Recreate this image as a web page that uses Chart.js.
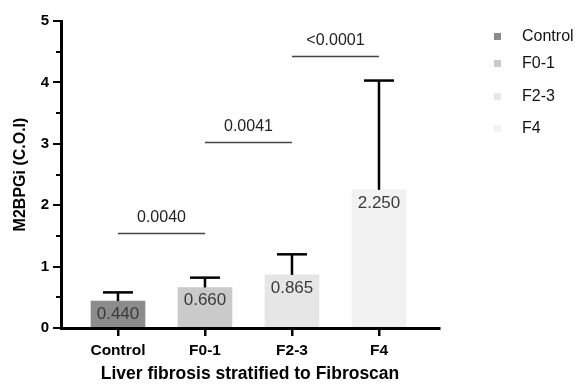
<!DOCTYPE html>
<html><head><meta charset="utf-8">
<script src="https://cdn.jsdelivr.net/npm/chart.js@4/dist/chart.umd.min.js"></script>
<style>
html,body{margin:0;padding:0;background:#fff;}
#wrap{position:relative;width:578px;height:385px;overflow:hidden;}
canvas{display:block;}
.lg-item{position:absolute;left:494px;height:20px;display:flex;align-items:center;font:16px 'Liberation Sans',Arial,sans-serif;color:#111;white-space:nowrap;}
.lg-sq{width:7px;height:7px;margin-right:21px;}
</style></head><body>
<div id="wrap"><canvas id="c" width="578" height="385"></canvas><div id="legend"></div></div>
<script>
const categories = ['Control', 'F0-1', 'F2-3', 'F4'];
const medians = [0.440, 0.660, 0.865, 2.250];
const upperErrors = [0.58, 0.82, 1.20, 4.03];
const barColors = ['#8c8c8c', '#cacaca', '#e6e6e6', '#f2f2f2'];
const comparisons = [[0, 1], [1, 2], [2, 3]];
const pValues = ['0.0040', '0.0041', '<0.0001'];
const bracketHeights = [1.54, 3.02, 4.42];

const FONT = "'Liberation Sans', Arial, sans-serif";

// HTML legend
const legendRowCenters = [36, 63, 96, 128];
const legendEl = document.getElementById('legend');
categories.forEach((c, i) => {
  const d = document.createElement('div');
  d.className = 'lg-item';
  d.style.top = (legendRowCenters[i] - 10) + 'px';
  const sq = document.createElement('span');
  sq.className = 'lg-sq';
  sq.style.background = barColors[i];
  const t = document.createElement('span');
  t.textContent = c;
  d.appendChild(sq); d.appendChild(t);
  legendEl.appendChild(d);
});

const overlay = {
  id: 'overlay',
  afterDatasetsDraw(chart) {
    const ctx = chart.ctx;
    const meta = chart.getDatasetMeta(0);
    const ys = chart.scales.y, xs = chart.scales.x;
    ctx.save();
    meta.data.forEach((bar, i) => {
      const top = ys.getPixelForValue(upperErrors[i]);
      ctx.strokeStyle = '#000';
      ctx.lineWidth = 2.5;
      ctx.beginPath(); ctx.moveTo(bar.x, bar.y); ctx.lineTo(bar.x, top); ctx.stroke();
      ctx.beginPath(); ctx.moveTo(bar.x - 15, top); ctx.lineTo(bar.x + 15, top); ctx.stroke();
      ctx.fillStyle = '#3a3a3a';
      ctx.font = "17px " + FONT;
      ctx.textAlign = 'center';
      ctx.textBaseline = 'middle';
      ctx.fillText(medians[i].toFixed(3), bar.x, bar.y + 13);
    });
    comparisons.forEach(([a, b], k) => {
      const yy = ys.getPixelForValue(bracketHeights[k]);
      const xa = xs.getPixelForValue(a), xb = xs.getPixelForValue(b);
      ctx.strokeStyle = '#444';
      ctx.lineWidth = 1.5;
      ctx.beginPath(); ctx.moveTo(xa, yy); ctx.lineTo(xb, yy); ctx.stroke();
      ctx.fillStyle = '#222';
      ctx.font = "16px " + FONT;
      ctx.textAlign = 'center';
      ctx.textBaseline = 'middle';
      ctx.fillText(pValues[k], (xa + xb) / 2, yy - 16);
    });
    // minor y ticks
    const left = chart.chartArea.left;
    ctx.strokeStyle = '#000';
    ctx.lineWidth = 2;
    for (let v = 0.5; v < 5; v += 1) {
      const py = Math.round(ys.getPixelForValue(v));
      ctx.beginPath(); ctx.moveTo(left - 5, py); ctx.lineTo(left, py); ctx.stroke();
    }
    ctx.restore();
  }
};

new Chart(document.getElementById('c'), {
  type: 'bar',
  data: {
    datasets: [{
      data: medians.map((m, i) => ({ x: i, y: m })),
      backgroundColor: barColors,
      borderWidth: 0,
      barThickness: 54
    }]
  },
  options: {
    responsive: false,
    animation: false,
    devicePixelRatio: 1,
    layout: { padding: { top: 21, right: 139, bottom: 0, left: 0 } },
    plugins: { legend: { display: false }, tooltip: { enabled: false } },
    scales: {
      x: {
        type: 'linear',
        offset: false,
        min: -0.655,
        max: 3.69,
        afterBuildTicks: s => { s.ticks = categories.map((_, i) => ({ value: i })); },
        afterFit: s => { s.height = 57; },
        grid: { offset: false, drawOnChartArea: false, drawTicks: true, tickLength: 8, color: '#000', lineWidth: 2.5 },
        border: { display: true, color: '#000', width: 3, z: 1 },
        ticks: {
          autoSkip: false, maxRotation: 0, padding: 5, color: '#000',
          font: { family: FONT, size: 15.5, weight: 'bold' },
          callback: v => categories[v] !== undefined ? categories[v] : ''
        },
        title: {
          display: true, text: 'Liver fibrosis stratified to Fibroscan', color: '#000',
          font: { family: FONT, size: 17.5, weight: 'bold' }, padding: { top: 0, bottom: 0 }
        }
      },
      y: {
        min: 0, max: 5,
        afterFit: s => { s.width = 61; },
        ticks: { stepSize: 1, padding: 4, color: '#000', font: { family: FONT, size: 15, weight: 'bold' } },
        grid: { drawOnChartArea: false, drawTicks: true, tickLength: 8, color: '#000', lineWidth: 2 },
        border: { display: true, color: '#000', width: 3, z: 1 },
        title: {
          display: true, text: 'M2BPGi (C.O.I)', color: '#000',
          font: { family: FONT, size: 16, weight: 'bold' }, padding: { top: 11, bottom: 0 }
        }
      }
    }
  },
  plugins: [overlay]
});
</script>
</body></html>
